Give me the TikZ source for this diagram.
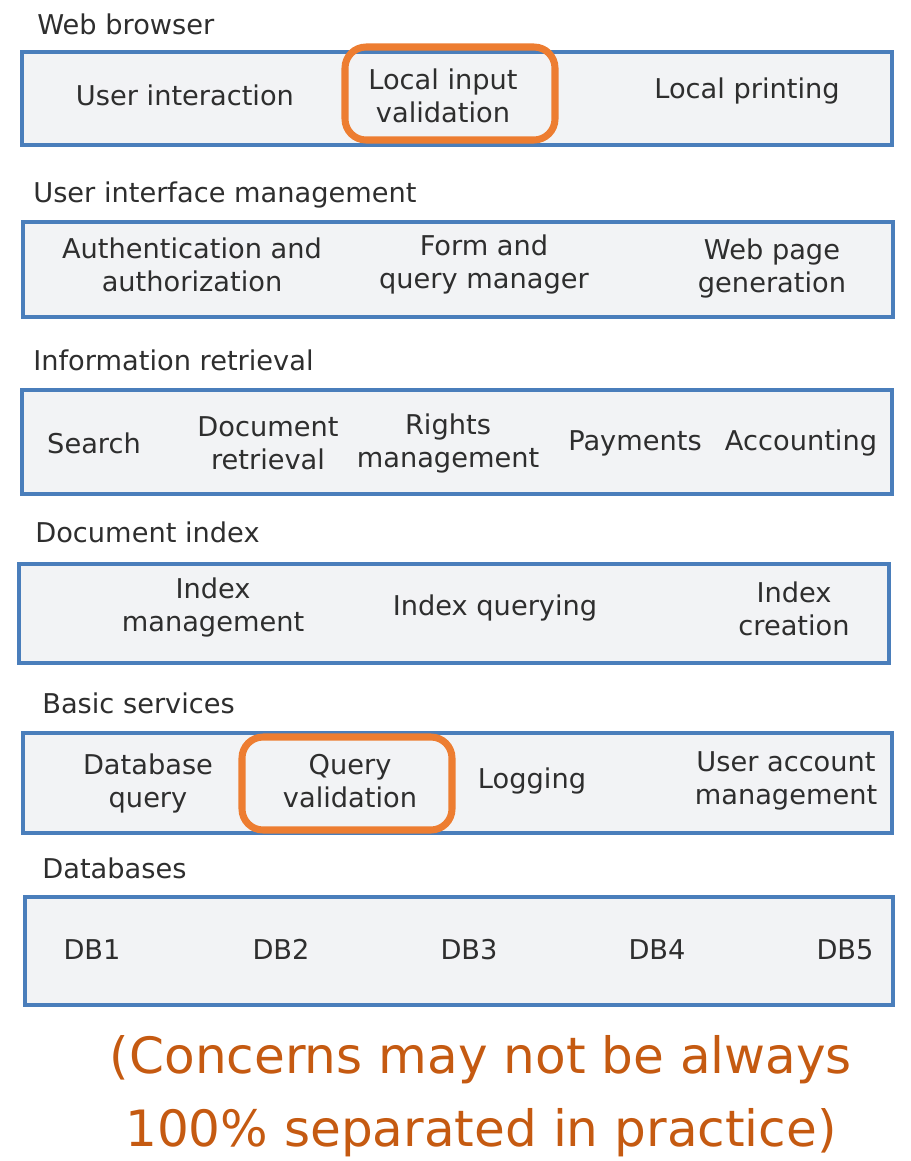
\documentclass[tikz,border=0pt]{standalone}
\usepackage{fontspec}
\setmainfont{DejaVu Sans}
\definecolor{layerfill}{HTML}{F2F3F5}
\definecolor{layerline}{HTML}{4A7EBB}
\definecolor{hilite}{HTML}{ED7D31}
\definecolor{notecol}{HTML}{C55A11}
\definecolor{txt}{HTML}{2E2E2E}
\tikzset{
  layer/.style={draw=layerline, line width=2.5pt, fill=layerfill},
  layername/.style={anchor=west, text=txt, inner sep=0pt, font=\fontsize{15.5pt}{18.8pt}\selectfont},
  item/.style={align=center, text=txt, font=\fontsize{15.5pt}{18.8pt}\selectfont},
  dbitem/.style={item, text height=1.6ex, text depth=0.3ex},
  concern/.style={draw=hilite, line width=4pt, rounded corners=12pt}
}
\begin{document}
\begin{tikzpicture}[x=0.02cm,y=-0.02cm]
\useasboundingbox (0,0) rectangle (911,1161);
% layers
\draw[layer] (22,52)  rectangle (892,145);
\draw[layer] (23,222) rectangle (893,317);
\draw[layer] (22,390) rectangle (892,494);
\draw[layer] (19,564) rectangle (889,663);
\draw[layer] (23,733) rectangle (892,833);
\draw[layer] (25,897) rectangle (893,1005);

\node[layername] (l1) at (37,24)  {Web browser};
\node[layername] (l2) at (33,195) {User interface management};
\node[layername] (l3) at (33,360) {Information retrieval};
\node[layername] (l4) at (35,532) {Document index};
\node[layername] (l5) at (42,703) {Basic services};
\node[layername] (l6) at (42,868) {Databases};

% highlighted concerns
\draw[concern] (345,47) rectangle (555,140);
\draw[concern] (242,737) rectangle (452,830);

\node[item] (ui)  at (185,95)  {User interaction};
\node[item] (liv) at (443,96)  {Local input\\validation};
\node[item] (lp)  at (747,91)  {Local printing};

\node[item] (aa)  at (192,265) {Authentication and\\authorization};
\node[item] (fq)  at (484,264) {Form and\\query manager};
\node[item] (wp)  at (772,268) {Web page\\generation};

\node[item] (se)  at (94,443)  {Search};
\node[item] (dr)  at (268,443) {Document\\retrieval};
\node[item] (rm)  at (448,443) {Rights\\management};
\node[item] (pa)  at (635,443) {Payments};
\node[item] (ac)  at (801,443) {Accounting};

\node[item] (im)  at (213,607) {Index\\management};
\node[item] (iq)  at (495,608) {Index querying};
\node[item] (ic)  at (794,609) {Index\\creation};

\node[item] (dq)  at (148,783) {Database\\query};
\node[item] (qv)  at (350,781) {Query\\validation};
\node[item] (lo)  at (532,781) {Logging};
\node[item] (ua)  at (786,781) {User account\\management};

\foreach \i/\x in {1/92,2/281,3/469,4/657,5/845}
  \node[dbitem] (db\i) at (\x,953) {DB\i};

\node[align=center, text=notecol, font=\fontsize{28.5pt}{41.5pt}\selectfont] (note) at (481,1096)
  {(Concerns may not be always\\100\% separated in practice)};
\end{tikzpicture}
\end{document}
